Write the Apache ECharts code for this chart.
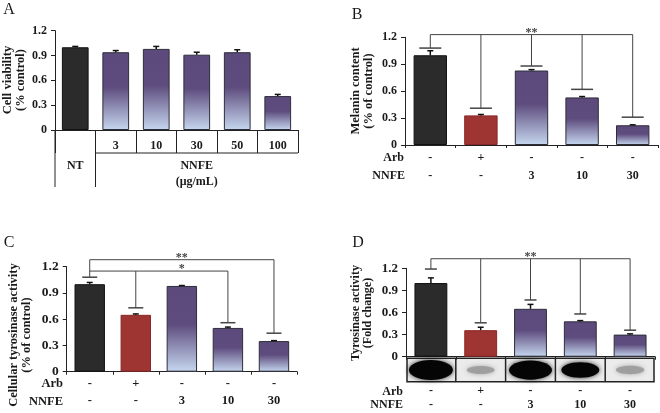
<!DOCTYPE html>
<html>
<head>
<meta charset="utf-8">
<script src="https://cdn.jsdelivr.net/npm/echarts@6/dist/echarts.min.js"></script>
<style>
html, body { margin: 0; padding: 0; background: #fff; }
#main { width: 660px; height: 413px; }
</style>
</head>
<body>
<div id="main"></div>
<script>
// A: cell viability
var catsA = ['NT', '3', '10', '30', '50', '100']
var kindA = ['nt', 'nnfe', 'nnfe', 'nnfe', 'nnfe', 'nnfe']
var valA = [1.0, 0.94, 0.98, 0.91, 0.94, 0.41]
var errA = [0.01, 0.02, 0.03, 0.03, 0.03, 0.02]

// shared treatment rows for B, C, D
var catsT = ['ctrl', 'arb', 'n3', 'n10', 'n30']
var kindT = ['nt', 'arb', 'nnfe', 'nnfe', 'nnfe']
var arbRow = ['-', '+', '-', '-', '-']
var nnfeRow = ['-', '-', '3', '10', '30']

// B: melanin content
var valB = [1.0, 0.33, 0.83, 0.53, 0.22]
var errB = [0.05, 0.01, 0.01, 0.01, 0.005]
var topB = 1.23
var capsB = [1.08, 0.41, 0.88, 0.62, 0.31]

// C: cellular tyrosinase activity
var valC = [1.0, 0.65, 0.98, 0.5, 0.35]
var errC = [0.02, 0.01, 0.005, 0.01, 0.005]
var topC2 = 1.28
var capsC2 = [1.08, null, null, null, 0.44]
var topC1 = 1.15
var capsC1 = [null, 0.73, null, 0.56, null]

// D: tyrosinase activity (fold change) + blot
var valD = [1.0, 0.36, 0.65, 0.48, 0.3]
var errD = [0.07, 0.04, 0.06, 0.01, 0.01]
var topD = 1.33
var capsD = [1.19, 0.46, 0.77, 0.58, 0.36]
var blotD = [1.0, 0.2, 0.95, 0.7, 0.22]

var serif = 'Liberation Serif'
var grids = [
  { left: 55, top: 30.7, width: 243, height: 99.3 },
  { left: 405, top: 37.3, width: 253, height: 107.7 },
  { left: 66.7, top: 266.7, width: 230.3, height: 105 },
  { left: 406, top: 268.3, width: 249, height: 88.4 }
]

function barStyle(kind) {
  if (kind === 'nt') return { color: '#2b2b2b', borderColor: '#111', borderWidth: 1 }
  if (kind === 'arb') return { color: '#9e3532', borderColor: '#8a2626', borderWidth: 1 }
  return {
    color: new echarts.graphic.LinearGradient(0, 0, 0, 1, [
      { offset: 0, color: '#5c4a7c' },
      { offset: 0.45, color: '#5e4c7e' },
      { offset: 1, color: '#c6d7ef' }
    ]),
    borderColor: '#2e2e3a',
    borderWidth: 1
  }
}

function barSeries(idx, vals, kinds) {
  return {
    type: 'bar',
    xAxisIndex: idx,
    yAxisIndex: idx,
    barWidth: '66%',
    data: vals.map(function(v, i) {
      return { value: v, itemStyle: barStyle(kinds[i]) }
    }),
    animation: false
  }
}

function errSeries(idx, vals, errs) {
  return {
    type: 'custom',
    xAxisIndex: idx,
    yAxisIndex: idx,
    z: 5,
    data: vals.map(function(v, i) {
      return [i, v, v + errs[i]]
    }),
    renderItem: function(params, api) {
      var p0 = api.coord([api.value(0), api.value(1)])
      var p1 = api.coord([api.value(0), api.value(2)])
      var st = { stroke: '#111', lineWidth: 1.5 }
      return {
        type: 'group',
        children: [
          { type: 'line', shape: { x1: p0[0], y1: p0[1], x2: p1[0], y2: p1[1] }, style: st },
          { type: 'line', shape: { x1: p1[0] - 3, y1: p1[1], x2: p1[0] + 3, y2: p1[1] }, style: st }
        ]
      }
    },
    animation: false
  }
}

// one bracket: horizontal line at top between first/last index, drops down to caps
function bracketSeries(idx, list, capW) {
  return {
    type: 'custom',
    xAxisIndex: idx,
    yAxisIndex: idx,
    z: 6,
    clip: false,
    data: list.map(function(b, k) {
      return [k, 0]
    }),
    renderItem: function(params, api) {
      var b = list[params.dataIndex]
      var st = { stroke: '#444', lineWidth: 1 }
      var a = api.coord([b.from, b.top])
      var c = api.coord([b.to, b.top])
      var kids = [{ type: 'line', shape: { x1: a[0], y1: a[1], x2: c[0], y2: c[1] }, style: st }]
      b.caps.forEach(function(cv, i) {
        if (cv == null) return
        var p = api.coord([i, b.top])
        var q = api.coord([i, cv])
        kids.push({ type: 'line', shape: { x1: p[0], y1: p[1], x2: q[0], y2: q[1] }, style: st })
        kids.push({ type: 'line', shape: { x1: q[0] - capW / 2, y1: q[1], x2: q[0] + capW / 2, y2: q[1] }, style: { stroke: '#444', lineWidth: 1.5 } })
      })
      var m = api.coord([2, b.top])
      kids.push({
        type: 'text',
        x: m[0],
        y: m[1] - 2,
        style: { text: b.label, font: 'bold 12px ' + serif, fill: '#444', align: 'center', verticalAlign: 'middle' }
      })
      return { type: 'group', children: kids }
    },
    animation: false
  }
}

function yAxisFor(idx, size) {
  return {
    type: 'value',
    gridIndex: idx,
    min: 0,
    max: 1.2,
    interval: 0.3,
    splitLine: { show: false },
    axisLine: { show: true, lineStyle: { color: '#222', width: 1 } },
    axisTick: { show: true, length: 4, lineStyle: { color: '#222' } },
    axisLabel: {
      margin: 8,
      color: '#1a1a1a',
      fontFamily: serif,
      fontWeight: 'bold',
      fontSize: size,
      formatter: function(v) {
        return v === 0 ? '0' : v.toFixed(1)
      }
    }
  }
}

function xAxisT(idx, margin, lh, size) {
  return {
    type: 'category',
    gridIndex: idx,
    data: catsT,
    axisLine: { lineStyle: { color: '#222' } },
    axisTick: { show: true, length: 3, lineStyle: { color: '#222' } },
    axisLabel: {
      interval: 0,
      margin: margin,
      lineHeight: lh,
      color: '#1a1a1a',
      fontFamily: serif,
      fontWeight: 'bold',
      fontSize: size,
      formatter: function(v, i) {
        return arbRow[i] + '\n' + nnfeRow[i]
      }
    }
  }
}

var txtStyle = function(text, size, align, weight) {
  return {
    text: text,
    font: (weight || 'bold') + ' ' + size + 'px ' + serif,
    fill: '#1a1a1a',
    align: align || 'center',
    textAlign: align || 'center',
    verticalAlign: 'middle',
    textVerticalAlign: 'middle'
  }
}

// table lines under panel A
var gA = grids[0]
var stepA = gA.width / catsA.length
var b1 = gA.left + stepA
var axA = gA.top + gA.height
var graphics = [
  { type: 'line', shape: { x1: gA.left, y1: axA, x2: gA.left, y2: axA + 57 }, style: { stroke: '#222', lineWidth: 1 } },
  { type: 'line', shape: { x1: b1, y1: axA + 23, x2: b1, y2: axA + 57 }, style: { stroke: '#222', lineWidth: 1 } },
  { type: 'line', shape: { x1: b1, y1: axA + 23, x2: gA.left + gA.width, y2: axA + 23 }, style: { stroke: '#222', lineWidth: 1 } },
  { type: 'text', x: (b1 + gA.left + gA.width) / 2, y: axA + 36, style: txtStyle('NNFE', 12) },
  { type: 'text', x: (b1 + gA.left + gA.width) / 2, y: axA + 52, style: txtStyle('(\u03bcg/mL)', 12) },

  // panel letters
  { type: 'text', x: 9, y: 10, style: txtStyle('A', 16, 'center', 'normal') },
  { type: 'text', x: 357, y: 15, style: txtStyle('B', 16, 'center', 'normal') },
  { type: 'text', x: 9, y: 243, style: txtStyle('C', 16, 'center', 'normal') },
  { type: 'text', x: 358, y: 243, style: txtStyle('D', 16, 'center', 'normal') },

  // y axis titles
  { type: 'text', x: 14, y: 80, rotation: Math.PI / 2, style: txtStyle('Cell viability\n(% control)', 12.5) },
  { type: 'text', x: 362, y: 91, rotation: Math.PI / 2, style: txtStyle('Melanin content\n(% of control)', 12.5) },
  { type: 'text', x: 20, y: 335, rotation: Math.PI / 2, style: txtStyle('Cellular tyrosinase activity\n(% of control)', 12.5) },
  { type: 'text', x: 362, y: 313, rotation: Math.PI / 2, style: txtStyle('Tyrosinase activity\n(Fold change)', 12) },

  // row headers
  { type: 'text', x: 404, y: 158, style: txtStyle('Arb', 12, 'right') },
  { type: 'text', x: 405, y: 176, style: txtStyle('NNFE', 12, 'right') },
  { type: 'text', x: 63, y: 384, style: txtStyle('Arb', 12.5, 'right') },
  { type: 'text', x: 63, y: 401.5, style: txtStyle('NNFE', 12.5, 'right') },
  { type: 'text', x: 403, y: 391.5, style: txtStyle('Arb', 12, 'right') },
  { type: 'text', x: 403, y: 405, style: txtStyle('NNFE', 12, 'right') }
]

// western blot strip under panel D
var gD = grids[3]
var stepD = gD.width / catsT.length
var blotTop = gD.top + gD.height + 1.6
var blotH = 23.4
graphics.push({
  type: 'rect',
  shape: { x: gD.left + 1, y: blotTop, width: gD.width - 2, height: blotH },
  style: { fill: '#ebebeb', stroke: '#222', lineWidth: 1.5 }
})
blotD.forEach(function(b, i) {
  var cx = gD.left + stepD * (i + 0.5)
  graphics.push({
    type: 'ellipse',
    shape: { cx: cx, cy: blotTop + blotH / 2, rx: 12 + 10 * b, ry: 2.5 + 7.5 * b },
    style: {
      fill: b > 0.5 ? '#050505' : '#9a9a9a',
      opacity: b > 0.5 ? 1 : 0.85,
      shadowBlur: 5,
      shadowColor: b > 0.5 ? 'rgba(0,0,0,0.8)' : 'rgba(140,140,140,0.8)'
    },
    z: 10
  })
  if (i > 0) {
    graphics.push({
      type: 'line',
      shape: { x1: gD.left + stepD * i, y1: blotTop, x2: gD.left + stepD * i, y2: blotTop + blotH },
      style: { stroke: '#222', lineWidth: 1.5 },
      z: 11
    })
  }
})

var option = {
  backgroundColor: '#fff',
  animation: false,
  grid: grids,
  xAxis: [
    {
      type: 'category',
      gridIndex: 0,
      data: catsA,
      axisLine: { lineStyle: { color: '#222' } },
      axisTick: { show: true, interval: 0, length: 23, lineStyle: { color: '#222' } },
      axisLabel: {
        interval: 0,
        margin: 6,
        lineHeight: 20,
        color: '#1a1a1a',
        fontFamily: serif,
        fontWeight: 'bold',
        fontSize: 12,
        formatter: function(v, i) {
          return i === 0 ? ' \n' + v : v
        }
      }
    },
    xAxisT(1, 4, 18, 12),
    xAxisT(2, 3, 17.7, 12.5),
    xAxisT(3, 28, 13.4, 12)
  ],
  yAxis: [yAxisFor(0, 12), yAxisFor(1, 12), yAxisFor(2, 13.5), yAxisFor(3, 13)],
  series: [
    barSeries(0, valA, kindA),
    errSeries(0, valA, errA),
    barSeries(1, valB, kindT),
    errSeries(1, valB, errB),
    bracketSeries(1, [{ from: 0, to: 4, top: topB, caps: capsB, label: '**' }], 22),
    barSeries(2, valC, kindT),
    errSeries(2, valC, errC),
    bracketSeries(2, [
      { from: 0, to: 4, top: topC2, caps: capsC2, label: '**' },
      { from: 0, to: 3, top: topC1, caps: capsC1, label: '*' }
    ], 15),
    barSeries(3, valD, kindT),
    errSeries(3, valD, errD),
    bracketSeries(3, [{ from: 0, to: 4, top: topD, caps: capsD, label: '**' }], 12)
  ],
  graphic: graphics
}

var chart = echarts.init(document.getElementById('main'))
chart.setOption(option)
</script>
</body>
</html>
